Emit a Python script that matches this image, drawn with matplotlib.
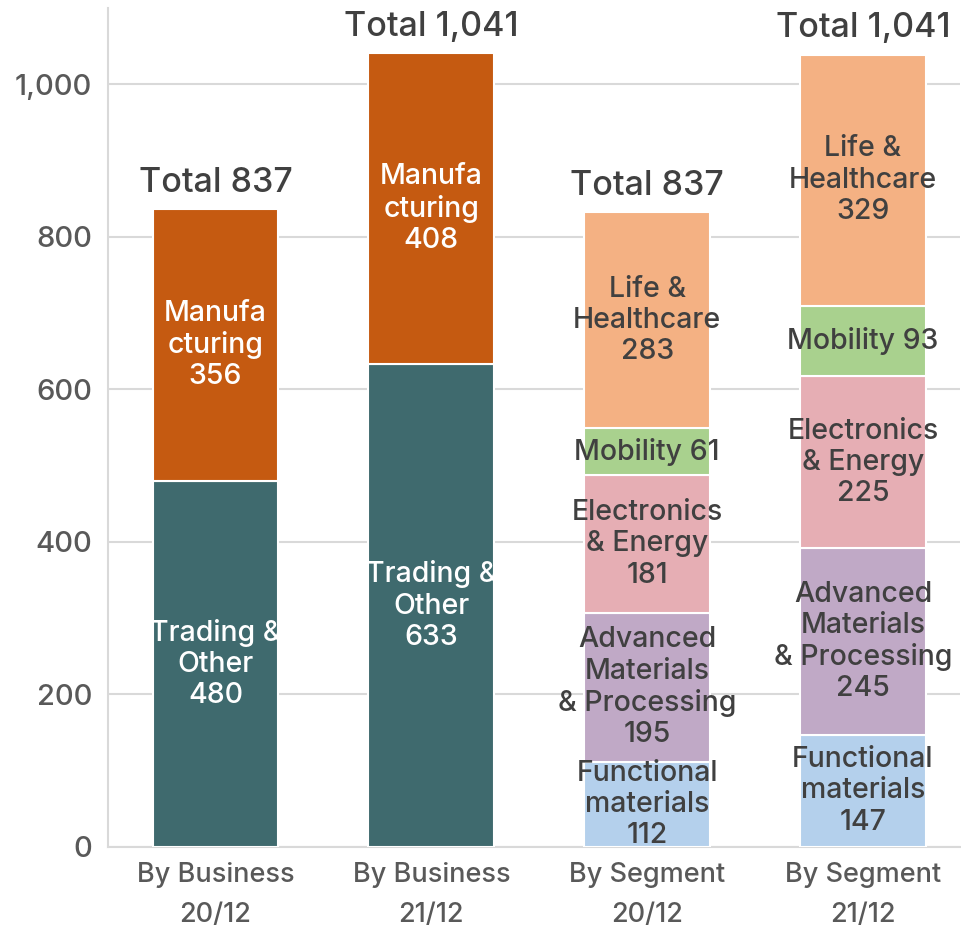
import numpy as np
import matplotlib.pyplot as plt

plt.rcParams['font.family'] = ['Inter', 'DejaVu Sans']
plt.rcParams['font.weight'] = 'medium'

categories = ['By Business\n20/12', 'By Business\n21/12', 'By Segment\n20/12', 'By Segment\n21/12']
totals = ['Total 837', 'Total 1,041', 'Total 837', 'Total 1,041']

# by business (bars 0, 1)
trading = [480, 633]
manufacturing = [356, 408]

# by segment (bars 2, 3)
functional = [112, 147]
advanced = [195, 245]
electronics = [181, 225]
mobility = [61, 93]
life = [283, 329]

fig = plt.figure(figsize=(9.61, 9.27), dpi=100)
ax = fig.add_axes([0.112, 0.0863, 0.887, 0.905])

x = np.arange(4)
w = 0.583
dark = '#404040'

def stack(xs, series):
    bottom = np.zeros(len(xs))
    for vals, color, labels, tcolor in series:
        vals = np.array(vals, dtype=float)
        ax.bar(xs, vals, w, bottom=bottom, color=color, edgecolor='white', linewidth=1.5, zorder=3)
        for xi, b, v, lab in zip(xs, bottom, vals, labels):
            ax.text(xi, b + v / 2, lab, ha='center', va='center', fontsize=20.5,
                    color=tcolor, linespacing=1.2, zorder=4)
        bottom += vals
    return bottom

top_b = stack(x[:2], [
    (trading, '#3F6A6E', ['Trading &\nOther\n%d' % v for v in trading], 'white'),
    (manufacturing, '#C55A11', ['Manufa\ncturing\n%d' % v for v in manufacturing], 'white'),
])
top_s = stack(x[2:], [
    (functional, '#B4D0EC', ['Functional\nmaterials\n%d' % v for v in functional], dark),
    (advanced, '#C0A9C6', ['Advanced\nMaterials\n& Processing\n%d' % v for v in advanced], dark),
    (electronics, '#E6AEB4', ['Electronics\n& Energy\n%d' % v for v in electronics], dark),
    (mobility, '#A9D18E', ['Mobility %d' % v for v in mobility], dark),
    (life, '#F4B183', ['Life &\nHealthcare\n%d' % v for v in life], dark),
])

tops = list(top_b) + list(top_s)
for xi, t, lab in zip(x, tops, totals):
    ax.text(xi, t + 23, lab, ha='center', va='baseline', fontsize=24.5, color=dark, zorder=4)

ax.set_xlim(-0.5, 3.45)
ax.set_ylim(0, 1100)
ax.set_yticks([0, 200, 400, 600, 800, 1000])
ax.set_yticklabels(['0', '200', '400', '600', '800', '1,000'])
ax.set_xticks(x)
ax.set_xticklabels(categories, linespacing=1.7)
ax.tick_params(axis='y', length=0, labelsize=21, labelcolor='#595959', pad=11)
ax.tick_params(axis='x', length=0, labelsize=19.5, labelcolor='#595959', pad=11)
ax.grid(axis='y', color='#D9D9D9', linewidth=1.5, zorder=0)
for s in ['top', 'right']:
    ax.spines[s].set_visible(False)
ax.spines['left'].set_color('#D9D9D9')
ax.spines['bottom'].set_color('#D9D9D9')
ax.spines['left'].set_linewidth(1.5)
ax.spines['bottom'].set_linewidth(1.5)

fig.savefig('out.png', dpi=100)
